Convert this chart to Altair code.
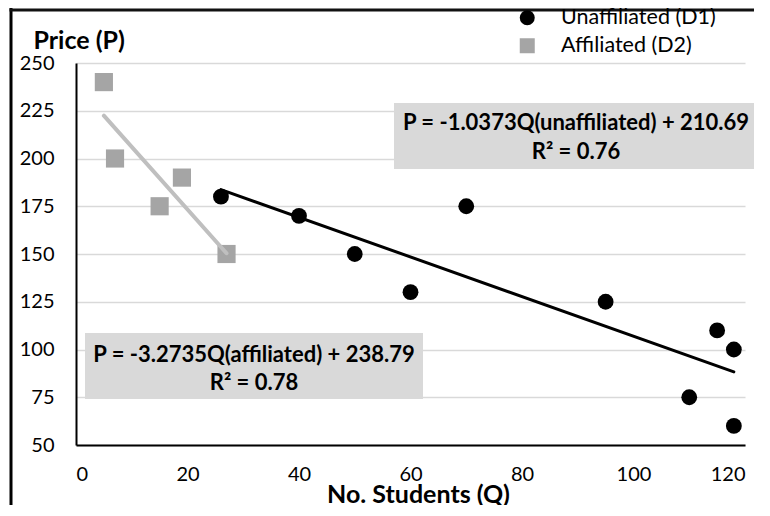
import altair as alt
import pandas as pd

# ---- data ----
unaff_q = [26, 40, 50, 60, 70, 95, 110, 115, 118, 118]
unaff_p = [180, 170, 150, 130, 175, 125, 75, 110, 100, 60]
aff_q = [5, 7, 15, 19, 27]
aff_p = [240, 200, 175, 190, 150]
groups = ["Unaffiliated (D1)", "Affiliated (D2)"]
eq_unaff = ["P = -1.0373Q(unaffiliated) + 210.69", "R² = 0.76"]
eq_aff = ["P = -3.2735Q(affiliated) + 238.79", "R² = 0.78"]
x_ticks = [0, 20, 40, 60, 80, 100, 120]
y_ticks = [50, 75, 100, 125, 150, 175, 200, 225, 250]

df = pd.DataFrame({
    "Q": unaff_q + aff_q,
    "P": unaff_p + aff_p,
    "group": [groups[0]] * len(unaff_q) + [groups[1]] * len(aff_q),
})
one = pd.DataFrame({"k": [0]})

FONT = "Lato"
W, H = 669, 382
TICK_FS = 20
TITLE_FS = 25
EQ_FS = 22
LEG_FS = 21.5

x_scale = alt.Scale(domain=[0, 120], nice=False, zero=False)
y_scale = alt.Scale(domain=[50, 250], nice=False, zero=False)
color_scale = alt.Scale(domain=groups, range=["#000000", "#A5A5A5"])
shape_scale = alt.Scale(domain=groups, range=["circle", "square"])

x_axis = alt.Axis(values=x_ticks, title="No. Students (Q)", grid=False,
                  domainColor="black", domainWidth=2, ticks=False,
                  labelPadding=29, labelBaseline="middle",
                  labelFontSize=TICK_FS, labelFont=FONT, labelColor="black",
                  titleFont=FONT, titleFontSize=TITLE_FS, titleFontWeight="bold", titleColor="black",
                  titleX=342, titleY=57, titleBaseline="alphabetic", titleAlign="center",
                  zindex=1)
y_axis = alt.Axis(values=y_ticks, title="Price (P)", grid=True, gridColor="#D9D9D9", gridWidth=1.5,
                  domainColor="black", domainWidth=2, ticks=False,
                  labelPadding=22, labelFontSize=TICK_FS, labelFont=FONT, labelColor="black",
                  titleFont=FONT, titleFontSize=TITLE_FS, titleFontWeight="bold", titleColor="black",
                  titleAngle=0, titleAlign="left", titleBaseline="alphabetic",
                  titleX=-43, titleY=-15)

legend = alt.Legend(title=None, orient="none", legendX=440.5, legendY=-56, padding=0,
                    symbolSize=225, symbolStrokeWidth=0, labelFont=FONT, labelFontSize=LEG_FS,
                    labelColor="black", labelOffset=23, rowPadding=5)

base = alt.Chart(df)

def pts(name, size):
    return base.transform_filter(alt.datum.group == name).mark_point(
        filled=True, size=size, opacity=1, strokeWidth=0
    ).encode(
        x=alt.X("Q:Q", scale=x_scale, axis=x_axis),
        y=alt.Y("P:Q", scale=y_scale, axis=y_axis),
        color=alt.Color("group:N", scale=color_scale, legend=legend),
        shape=alt.Shape("group:N", scale=shape_scale, legend=legend),
    )

def trend(name, color, width):
    return base.transform_filter(alt.datum.group == name).transform_regression(
        "Q", "P"
    ).mark_line(color=color, strokeWidth=width, strokeCap="round").encode(
        x=alt.X("Q:Q", scale=x_scale),
        y=alt.Y("P:Q", scale=y_scale),
    )

box1 = alt.Chart(one).mark_rect(color="#D9D9D9").encode(
    x=alt.value(318), x2=alt.value(682), y=alt.value(40), y2=alt.value(106))
box2 = alt.Chart(one).mark_rect(color="#D9D9D9").encode(
    x=alt.value(9), x2=alt.value(347), y=alt.value(270), y2=alt.value(336))

def label(txt, x, y):
    return alt.Chart(pd.DataFrame({"t": [txt]})).mark_text(
        font=FONT, fontSize=EQ_FS, fontWeight="bold", color="black",
        align="center", baseline="middle"
    ).encode(text="t:N", x=alt.value(x), y=alt.value(y))

frame_left = alt.Chart(one).mark_rect(color="black").encode(
    x=alt.value(-66.5), x2=alt.value(-63.5), y=alt.value(-55), y2=alt.value(H + 60))
frame_top = alt.Chart(one).mark_rule(color="#111111", strokeWidth=3).encode(
    x=alt.value(-66.5), x2=alt.value(W + 9), y=alt.value(-53))

chart = alt.layer(
    box1, box2,
    pts(groups[0], 250), pts(groups[1], 330),
    trend(groups[1], "#BFBFBF", 4), trend(groups[0], "black", 3),
    label(eq_unaff[0], 500, 60), label(eq_unaff[1], 500, 89),
    label(eq_aff[0], 178, 292), label(eq_aff[1], 178, 320),
    frame_left, frame_top,
).properties(
    width=W, height=H,
    padding={"left": 68, "top": 55, "right": 9, "bottom": 60},
    autosize="none", background="white",
).configure_view(stroke=None)

chart.save("out.html", embed_options={"renderer": "svg", "actions": False})
